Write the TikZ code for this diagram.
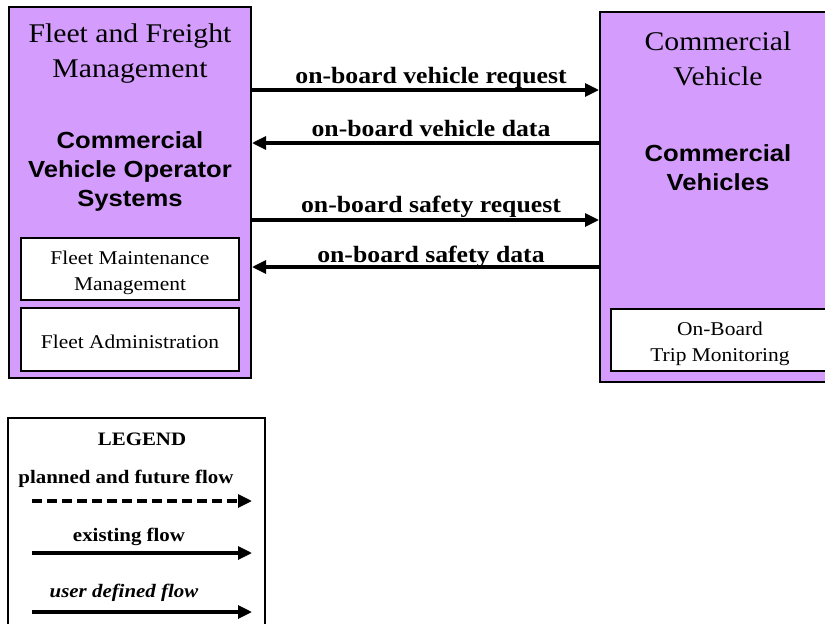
\documentclass[tikz,border=0pt]{standalone}
\usepackage{fontspec}
\setmainfont[FakeStretch=1.1]{Liberation Serif}
\newfontfamily\sansfam[FakeStretch=1.1]{Liberation Sans}
\usetikzlibrary{arrows.meta}
\definecolor{purp}{RGB}{212,157,253}
\newcommand\myhd{\fontsize{27}{35}\selectfont}
\newcommand\mybs{\sansfam\bfseries\fontsize{23.3}{29}\selectfont}
\newcommand\mylbl{\bfseries\fontsize{23.4}{28}\selectfont}
\newcommand\mysub{\fontsize{19.5}{26}\selectfont}
\newcommand\myleg{\bfseries\fontsize{19}{24}\selectfont}
\tikzset{
  sysbox/.style={draw=black, line width=2pt, fill=purp, rectangle, inner sep=0pt},
  subbox/.style={draw=black, line width=2pt, fill=white, rectangle, inner sep=0pt},
  flow/.style={line width=3.2pt, -{Triangle[length=14pt,width=13pt]}},
  txt/.style={inner sep=0pt, anchor=base, align=center},
}
\begin{document}
\begin{tikzpicture}[x=1pt,y=-1pt]
\clip (0,0) rectangle (825,624);
\useasboundingbox (0,0) rectangle (825,624);
\fill[white] (0,0) rectangle (825,624);

% main boxes
\node[sysbox, minimum width=242pt, minimum height=371pt] (fleet) at (130,192.5) {};
\node[sysbox, minimum width=230pt, minimum height=370pt] (cv) at (715,197) {};

% titles (base = last line baseline)
\node[txt, font=\myhd] (fleettitle) at (130,77) {Fleet and Freight\\Management};
\node[txt, font=\mybs] (fleetsub) at (130,206) {Commercial\\Vehicle Operator\\Systems};
\node[txt, font=\myhd] (cvtitle) at (718,85) {Commercial\\Vehicle};
\node[txt, font=\mybs] (cvsub) at (718,190) {Commercial\\Vehicles};

% sub boxes
\node[subbox, minimum width=218pt, minimum height=62pt] (fmm) at (130,269) {};
\node[txt, font=\mysub] (fmmtext) at (130,290) {Fleet Maintenance\\Management};
\node[subbox, minimum width=218pt, minimum height=63pt] (fa) at (130,339.5) {};
\node[txt, font=\mysub] (fatext) at (130,348) {Fleet Administration};
\node[subbox, minimum width=219pt, minimum height=62pt] (obtm) at (720.5,340) {};
\node[txt, font=\mysub] (obtmtext) at (720,361) {On-Board\\Trip Monitoring};

% flows
\coordinate (r1) at (0,90);
\coordinate (r2) at (0,143);
\coordinate (r3) at (0,220);
\coordinate (r4) at (0,267);
\draw[flow] (fleet.east |- r1) -- (cv.west |- r1);
\draw[flow] (cv.west |- r2) -- (fleet.east |- r2);
\draw[flow] (fleet.east |- r3) -- (cv.west |- r3);
\draw[flow] (cv.west |- r4) -- (fleet.east |- r4);
\node[txt, font=\mylbl] (l1) at (431,83) {on-board vehicle request};
\node[txt, font=\mylbl] (l2) at (431,136) {on-board vehicle data};
\node[txt, font=\mylbl] (l3) at (431,212) {on-board safety request};
\node[txt, font=\mylbl] (l4) at (431,262) {on-board safety data};

% legend
\node[draw=black, line width=2pt, fill=white, minimum width=257pt, minimum height=220pt] (legend) at (136.5,528) {};
\node[txt, font=\myleg] (legtitle) at (142,445) {LEGEND};
\node[txt, font=\myleg] (legplan) at (126,483) {planned and future flow};
\node[txt, font=\myleg] (legexist) at (129,541) {existing flow};
\node[txt, font=\myleg\itshape] (leguser) at (124,597) {user defined flow};
\coordinate (a1s) at (32,501);
\coordinate (a1e) at (252,501);
\coordinate (a2s) at (32,553);
\coordinate (a2e) at (252,553);
\coordinate (a3s) at (32,612);
\coordinate (a3e) at (252,612);
\draw[flow, dash pattern=on 10pt off 5pt] (a1s) -- (a1e);
\draw[flow] (a2s) -- (a2e);
\draw[flow] (a3s) -- (a3e);
\end{tikzpicture}
\end{document}
